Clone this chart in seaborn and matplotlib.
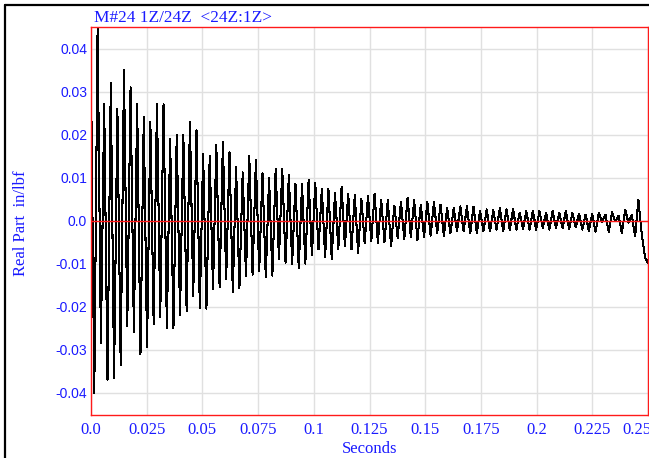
import numpy as np
import pandas as pd
import matplotlib
matplotlib.use("Agg")
import matplotlib.pyplot as plt
import matplotlib.transforms as mtransforms
from matplotlib.lines import Line2D
import seaborn as sns

# Impulse response, real part (units of 1e-3 in/lbf), listed as successive
# positive and negative swings of the decaying oscillation.
peaks_milli = [
    34, 45, 27, 32, 26, 35, 31, 27, 24, 23, 27, 27, 19, 20, 20,
    23, 21, 15.6, 15, 17.5, 18.2, 15.9, 12.5, 11.2, 15, 14, 11, 9.9, 12, 12.1,
    10.5, 8.6, 8.4, 9.5,
    8.8, 7.4, 7.4, 6.4, 7.8, 6.3, 5.9, 5.0, 5.7, 6.2, 4.9, 4.7, 3.5, 4.3, 5.3, 4.7,
    3.7, 4.3, 4.3, 3.7, 2.9, 2.9, 3.3, 3.3, 3.2, 2.3, 2.6, 2.4, 2.9, 2.6, 2.6,
    1.8, 2.2, 2.3,
    2.2, 1.8, 2.2, 1.8, 2.2, 1.8, 1.6, 1.4, 1.6, 1.7, 1.4, 1.9, 1.1, 2.5, 1.3, 4.8,
]
troughs_milli = [
    -40, -28.5, -37, -36.5, -33.5, -24.5, -26, -31, -29.5, -24, -22.5, -25, -25,
    -22, -21, -17.5,
    -20.3, -20.5, -16, -15.4, -13.6, -16.7, -15.8, -12.9, -12.6, -11.8, -13.1,
    -12.8, -8.9, -9.8, -10, -11, -10,
    -8.1, -6.7, -8.4, -8.9, -6.6, -6.0, -6.6, -7.5, -5.3, -4.8, -5.2, -5.0, -6.0,
    -4.0, -4.3, -3.8,
    -4.5, -3.8, -3.5, -2.9, -3.5, -2.9, -2.5, -2.5, -3.0, -2.9, -2.5, -2.5, -2.1,
    -2.5, -2.1, -2.1, -1.9, -2.1,
    -2.1, -1.7, -2.1, -1.7, -1.7, -2.0, -1.6, -2.1, -2.4, -2.6, -0.3, -2.6, -0.2,
    -2.9, -0.5, -3.7, -3.0,
]
tail_milli = [-8.5, -10.0]
sample_step = 0.00148  # seconds between successive swings

x_ticks = [0.0, 0.025, 0.05, 0.075, 0.1, 0.125, 0.15, 0.175, 0.2, 0.225, 0.25]
x_tick_labels = ["0.0", "0.025", "0.05", "0.075", "0.1", "0.125", "0.15",
                 "0.175", "0.2", "0.225", "0.25"]
y_ticks = [-0.04, -0.03, -0.02, -0.01, 0.0, 0.01, 0.02, 0.03, 0.04]
y_tick_labels = ["-0.04", "-0.03", "-0.02", "-0.01", "0.0", "0.01", "0.02",
                 "0.03", "0.04"]

title = "M#24 1Z/24Z  <24Z:1Z>"
x_label = "Seconds"
y_label = "Real Part  in/lbf"

# interleave the swings into one sampled trace
swings = np.empty(len(peaks_milli) + len(troughs_milli))
swings[0::2] = peaks_milli
swings[1::2] = troughs_milli
swings = np.concatenate([swings, tail_milli])
df = pd.DataFrame({
    "Seconds": np.arange(len(swings)) * sample_step,
    "Real Part": swings * 1e-3,
})

sns.set_style("white")
plt.rcParams["font.family"] = ["Liberation Serif", "DejaVu Serif"]

BLUE = "#1a1aff"
RED = "#ff1a1a"
GRID = "#e0e0e0"

W, H = 649, 458
fig = plt.figure(figsize=(W / 100, H / 100), dpi=100)
ax = fig.add_axes([91 / W, (H - 415) / H, 557 / W, 388 / H])

sns.lineplot(data=df, x="Seconds", y="Real Part", ax=ax, color="black",
             linewidth=0.75, sort=False, estimator=None, legend=False, zorder=2,
             antialiased=False)
ax.axhline(0, color=RED, linewidth=1.0, zorder=3)

ax.set_xlim(0, 0.25)
ax.set_ylim(-0.0452, 0.045)

ax.set_xticks(x_ticks)
ax.set_xticklabels(x_tick_labels, fontsize=12, color=BLUE,
                   family=["Liberation Serif"])
ax.set_yticks(y_ticks)
ax.set_yticklabels(y_tick_labels, fontsize=10, color=BLUE,
                   family=["Liberation Sans"])
ax.tick_params(axis="x", direction="out", length=2.3, width=1.0, color=RED, pad=3)
ax.tick_params(axis="y", length=0, pad=2.7)

# the last time label sits a little inside the right edge
last = ax.get_xticklabels()[-1]
last.set_transform(last.get_transform()
                   + mtransforms.ScaledTranslation(-11 / 100, 0, fig.dpi_scale_trans))

ax.grid(True, color=GRID, linewidth=1.0)
ax.set_axisbelow(True)
for sp in ax.spines.values():
    sp.set_color(RED)
    sp.set_linewidth(1.0)
    sp.set_zorder(4)

ax.set_xlabel(x_label, fontsize=12, color=BLUE, va="top")
ax.xaxis.set_label_coords(0.5, -(441 - 415) / 388)
ax.set_ylabel(y_label, fontsize=12, color=BLUE, va="center", ha="center")
ax.yaxis.set_label_coords((20.7 - 91) / 557, (415 - 223) / 388)

ax.text(3 / 557, (415 - 21.7) / 388, title, transform=ax.transAxes,
        fontsize=12.4, color=BLUE, ha="left", va="baseline")

# panel frame on the left and top edges
fig.add_artist(Line2D([4.5 / W, 4.5 / W], [0, (H - 4.5) / H], color="black",
                      linewidth=1.6, transform=fig.transFigure))
fig.add_artist(Line2D([4.5 / W, 1], [(H - 4.5) / H, (H - 4.5) / H],
                      color="black", linewidth=1.6, transform=fig.transFigure))

fig.savefig("out.png", dpi=100)
